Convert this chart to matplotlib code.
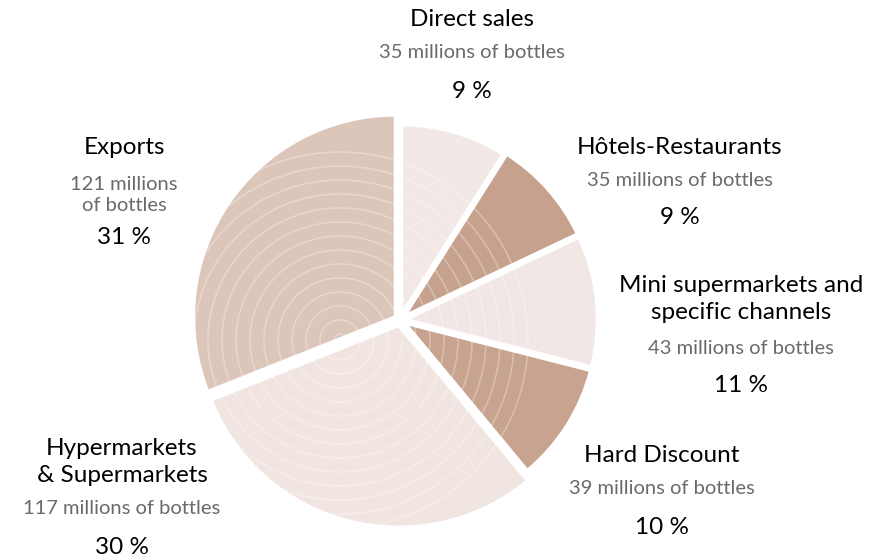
import numpy as np
import matplotlib.pyplot as plt
from matplotlib.patches import Circle

# Donnees (sens anti-horaire depuis le haut)
canaux = ["Exports", "Hypermarkets\n& Supermarkets", "Hard Discount",
          "Mini supermarkets and\nspecific channels", "Hôtels-Restaurants", "Direct sales"]
bouteilles = [121, 117, 39, 43, 35, 35]
pourcents = [31, 30, 10, 11, 9, 9]
sous_titres = ["121 millions\nof bottles", "117 millions of bottles", "39 millions of bottles",
               "43 millions of bottles", "35 millions of bottles", "35 millions of bottles"]

couleurs = ["#dcc5b9", "#f1e5e1", "#c7a390", "#f1e7e4", "#c6a18d", "#f2e8e5"]
rayons = [202, 202, 192, 192, 192, 190]

plt.rcParams["font.family"] = ["Lato", "DejaVu Sans"]
fig = plt.figure(figsize=(8.71, 5.6), dpi=100)
ax = fig.add_axes([0, 0, 1, 1])

cx, cy = 400, 560 - 320
# explode en unites de donnees (pixels ici)
wedges, _ = ax.pie(bouteilles, colors=couleurs, startangle=90, counterclock=True,
                   center=(cx, cy), radius=200, explode=[5.5] * 6,
                   wedgeprops=dict(edgecolor="white", linewidth=2.5), frame=True)
ax.set_xlim(0, 871)
ax.set_ylim(0, 560)
ax.axis("off")

# motif de cercles clairs dans les parts
for w, r in zip(wedges, rayons):
    w.set_radius(r)
    for k in range(6, 200, 14):
        c = Circle((cx - 60, cy - 20), k, fill=False, edgecolor="white", alpha=0.3, lw=1.2)
        ax.add_patch(c)
        c.set_clip_path(w)

# etiquettes: (x, y titre, y sous-titre, y pourcentage) en pixels image
pos = [(124, 148, 195, 238), (122, 462, 508, 547), (662, 455, 488, 527),
       (741, 299, 348, 385), (680, 147, 180, 217), (472, 20, 53, 92)]
for nom, st, p, (x, yt, ys, yp) in zip(canaux, sous_titres, pourcents, pos):
    ax.text(x, 560 - yt, nom, ha="center", va="center", fontsize=17.5, color="black",
            linespacing=1.3)
    ax.text(x, 560 - ys, st, ha="center", va="center", fontsize=14.5, color="#6a6a6a",
            linespacing=1.35)
    ax.text(x, 560 - yp, f"{p} %", ha="center", va="center", fontsize=17.5, color="black")

fig.savefig("out.png", dpi=100)
